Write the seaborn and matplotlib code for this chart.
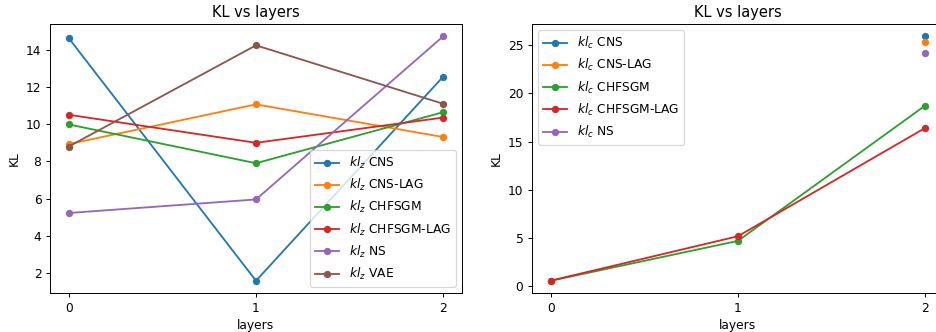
import numpy as np
import pandas as pd
import matplotlib
matplotlib.use("Agg")
import matplotlib.pyplot as plt
import seaborn as sns

plt.rcParams['font.family'] = ['DejaVu Sans']
plt.rcParams['font.size'] = 10

layers = [0, 1, 2]

# kl_z per method
kl_z_names = ['CNS', 'CNS-LAG', 'CHFSGM', 'CHFSGM-LAG', 'NS', 'VAE']
kl_z_cns = [14.64, 1.57, 12.57]
kl_z_cns_lag = [8.93, 11.07, 9.31]
kl_z_chfsgm = [9.99, 7.90, 10.65]
kl_z_chfsgm_lag = [10.51, 9.00, 10.36]
kl_z_ns = [5.22, 5.95, 14.74]
kl_z_vae = [8.80, 14.25, 11.10]

# kl_c per method (NaN where not available)
kl_c_names = ['CNS', 'CNS-LAG', 'CHFSGM', 'CHFSGM-LAG', 'NS']
kl_c_cns = [np.nan, np.nan, 25.90]
kl_c_cns_lag = [np.nan, np.nan, 25.28]
kl_c_chfsgm = [0.59, 4.72, 18.73]
kl_c_chfsgm_lag = [0.60, 5.20, 16.41]
kl_c_ns = [np.nan, np.nan, 24.17]

colors = sns.color_palette('tab10')

DPI = 88
fig = plt.figure(figsize=(936 / DPI, 332 / DPI), dpi=DPI)
ax1 = fig.add_axes([50 / 936, 1 - 293 / 332, 412 / 936, 269 / 332])
ax2 = fig.add_axes([532 / 936, 1 - 293 / 332, 412 / 936, 269 / 332])

kl_z = [kl_z_cns, kl_z_cns_lag, kl_z_chfsgm, kl_z_chfsgm_lag, kl_z_ns, kl_z_vae]
for i, (name, vals) in enumerate(zip(kl_z_names, kl_z)):
    sns.lineplot(x=layers, y=vals, ax=ax1, marker='o', markersize=6,
                 markeredgewidth=0, color=colors[i], label=f'$kl_z$ {name}')

kl_c = [kl_c_cns, kl_c_cns_lag, kl_c_chfsgm, kl_c_chfsgm_lag, kl_c_ns]
for i, (name, vals) in enumerate(zip(kl_c_names, kl_c)):
    df = pd.DataFrame({'layers': layers, 'KL': vals})
    ax2.plot(df.layers, df.KL, marker='o', markersize=6,
             markeredgewidth=0, color=colors[i], label=f'$kl_c$ {name}')

for ax, loc in [(ax1, 'lower right'), (ax2, 'upper left')]:
    ax.set_title('KL vs layers', fontsize=12)
    ax.set_xlabel('layers')
    ax.set_ylabel('KL')
    ax.set_xticks(layers)
    ax.legend(loc=loc)

fig.savefig('out.png', dpi=DPI)
plt.close()
